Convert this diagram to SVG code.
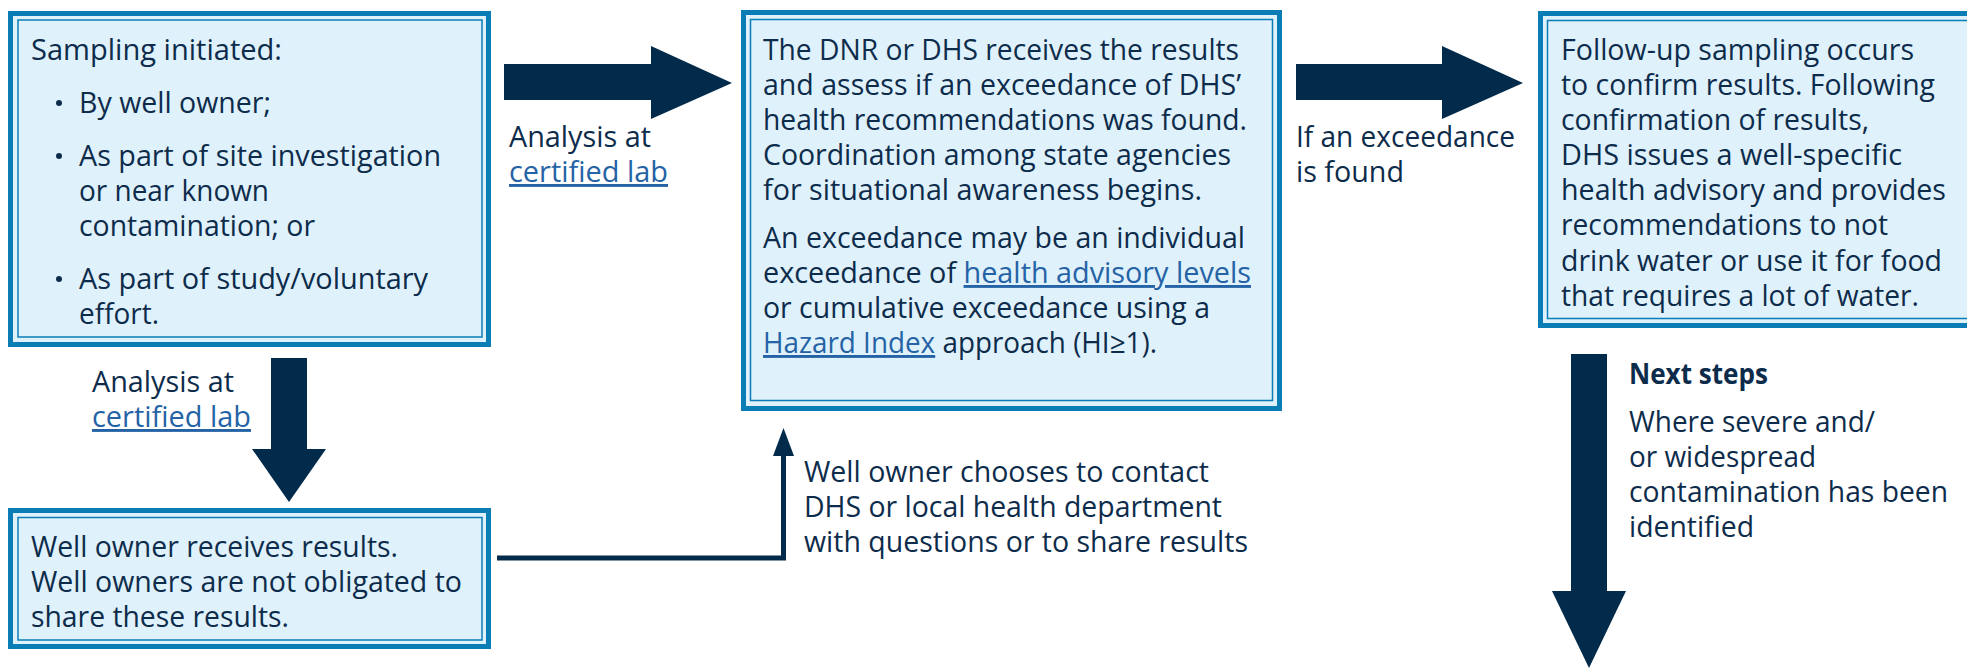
<svg xmlns="http://www.w3.org/2000/svg" width="1967" height="668" viewBox="0 0 1967 668">
<defs>
<style>
.t{font-family:"Open Sans","Noto Sans",sans-serif;font-size:29px;fill:#0d2c4b;}
.b{font-weight:700;}
.lk{fill:#2563a6;text-decoration:underline;}
.bo{fill:#dff1fb;stroke:#0a7db6;stroke-width:5;}
.bi{fill:none;stroke:#0a7db6;stroke-width:1.5;}
.ar{fill:#022a4a;}
.ln{fill:none;stroke:#022a4a;stroke-width:5;}
</style>
</defs>
<rect width="1967" height="668" fill="#ffffff"/>
<g id="connectors">
<polygon class="ar" points="504,64 651,64 651,46 732,83 651,119 651,100 504,100"/>
<polygon class="ar" points="1296,64 1442,64 1442,46 1523,83 1442,119 1442,100 1296,100"/>
<polygon class="ar" points="271,358 307,358 307,449 326,449 289,502 252,449 271,449"/>
<polygon class="ar" points="1571,354 1607,354 1607,591 1626,591 1589,668 1552,591 1571,591"/>
<path class="ln" d="M497,558 H783.5 V452"/>
<polygon class="ar" points="773,456 794,456 783.5,428"/>
<text class="t" x="509" y="147" textLength="142" lengthAdjust="spacingAndGlyphs">Analysis at</text>
<text class="t lk" x="509" y="182" textLength="159" lengthAdjust="spacingAndGlyphs">certified lab</text>
<text class="t" x="92" y="392" textLength="142" lengthAdjust="spacingAndGlyphs">Analysis at</text>
<text class="t lk" x="92" y="427" textLength="159" lengthAdjust="spacingAndGlyphs">certified lab</text>
<text class="t" x="1296" y="147" textLength="219" lengthAdjust="spacingAndGlyphs">If an exceedance</text>
<text class="t" x="1296" y="182" textLength="108" lengthAdjust="spacingAndGlyphs">is found</text>
<text class="t" x="804" y="482" textLength="405" lengthAdjust="spacingAndGlyphs">Well owner chooses to contact</text>
<text class="t" x="804" y="517" textLength="418" lengthAdjust="spacingAndGlyphs">DHS or local health department</text>
<text class="t" x="804" y="552" textLength="444" lengthAdjust="spacingAndGlyphs">with questions or to share results</text>
<text class="t b" x="1629" y="384" textLength="139" lengthAdjust="spacingAndGlyphs">Next steps</text>
<text class="t" x="1629" y="432" textLength="246" lengthAdjust="spacingAndGlyphs">Where severe and/</text>
<text class="t" x="1629" y="467" textLength="187" lengthAdjust="spacingAndGlyphs">or widespread</text>
<text class="t" x="1629" y="502" textLength="319" lengthAdjust="spacingAndGlyphs">contamination has been</text>
<text class="t" x="1629" y="537" textLength="125" lengthAdjust="spacingAndGlyphs">identified</text>
</g>
<g id="node-sampling">
<rect class="bo" x="10.5" y="13.5" width="478" height="331"/>
<rect class="bi" x="18" y="20" width="464" height="317"/>
<text class="t" x="31" y="60" textLength="251" lengthAdjust="spacingAndGlyphs">Sampling initiated:</text>
<circle cx="59" cy="103" r="3" fill="#0d2c4b"/>
<circle cx="59" cy="156" r="3" fill="#0d2c4b"/>
<circle cx="59" cy="279" r="3" fill="#0d2c4b"/>
<text class="t" x="79" y="113" textLength="192" lengthAdjust="spacingAndGlyphs">By well owner;</text>
<text class="t" x="79" y="166" textLength="362" lengthAdjust="spacingAndGlyphs">As part of site investigation</text>
<text class="t" x="79" y="201" textLength="190" lengthAdjust="spacingAndGlyphs">or near known</text>
<text class="t" x="79" y="236" textLength="236" lengthAdjust="spacingAndGlyphs">contamination; or</text>
<text class="t" x="79" y="289" textLength="349" lengthAdjust="spacingAndGlyphs">As part of study/voluntary</text>
<text class="t" x="79" y="324" textLength="80" lengthAdjust="spacingAndGlyphs">effort.</text>
</g>
<g id="node-dnr">
<rect class="bo" x="743.5" y="12.5" width="536" height="396"/>
<rect class="bi" x="750.5" y="19.5" width="522" height="381"/>
<text class="t" x="763" y="60" textLength="476" lengthAdjust="spacingAndGlyphs">The DNR or DHS receives the results</text>
<text class="t" x="763" y="95" textLength="478" lengthAdjust="spacingAndGlyphs">and assess if an exceedance of DHS’</text>
<text class="t" x="763" y="130" textLength="484" lengthAdjust="spacingAndGlyphs">health recommendations was found.</text>
<text class="t" x="763" y="165" textLength="468" lengthAdjust="spacingAndGlyphs">Coordination among state agencies</text>
<text class="t" x="763" y="200" textLength="439" lengthAdjust="spacingAndGlyphs">for situational awareness begins.</text>
<text class="t" x="763" y="248" textLength="482" lengthAdjust="spacingAndGlyphs">An exceedance may be an individual</text>
<text class="t" x="763" y="283" textLength="488" lengthAdjust="spacingAndGlyphs">exceedance of <tspan class="lk">health advisory levels</tspan></text>
<text class="t" x="763" y="318" textLength="447" lengthAdjust="spacingAndGlyphs">or cumulative exceedance using a</text>
<text class="t" x="763" y="353" textLength="394" lengthAdjust="spacingAndGlyphs"><tspan class="lk">Hazard Index</tspan> approach (HI≥1).</text>
</g>
<g id="node-followup">
<rect class="bo" x="1540.5" y="13.5" width="440" height="312"/>
<rect class="bi" x="1547.5" y="20.5" width="430" height="298"/>
<text class="t" x="1561" y="60" textLength="353" lengthAdjust="spacingAndGlyphs">Follow-up sampling occurs</text>
<text class="t" x="1561" y="95" textLength="374" lengthAdjust="spacingAndGlyphs">to confirm results. Following</text>
<text class="t" x="1561" y="130" textLength="308" lengthAdjust="spacingAndGlyphs">confirmation of results,</text>
<text class="t" x="1561" y="165" textLength="341" lengthAdjust="spacingAndGlyphs">DHS issues a well-specific</text>
<text class="t" x="1561" y="200" textLength="385" lengthAdjust="spacingAndGlyphs">health advisory and provides</text>
<text class="t" x="1561" y="235" textLength="327" lengthAdjust="spacingAndGlyphs">recommendations to not</text>
<text class="t" x="1561" y="271" textLength="381" lengthAdjust="spacingAndGlyphs">drink water or use it for food</text>
<text class="t" x="1561" y="306" textLength="358" lengthAdjust="spacingAndGlyphs">that requires a lot of water.</text>
</g>
<g id="node-owner">
<rect class="bo" x="10.5" y="510.5" width="478" height="136"/>
<rect class="bi" x="18" y="517.5" width="464" height="122.5"/>
<text class="t" x="31" y="557" textLength="367" lengthAdjust="spacingAndGlyphs">Well owner receives results.</text>
<text class="t" x="31" y="592" textLength="431" lengthAdjust="spacingAndGlyphs">Well owners are not obligated to</text>
<text class="t" x="31" y="627" textLength="258" lengthAdjust="spacingAndGlyphs">share these results.</text>
</g>
</svg>
